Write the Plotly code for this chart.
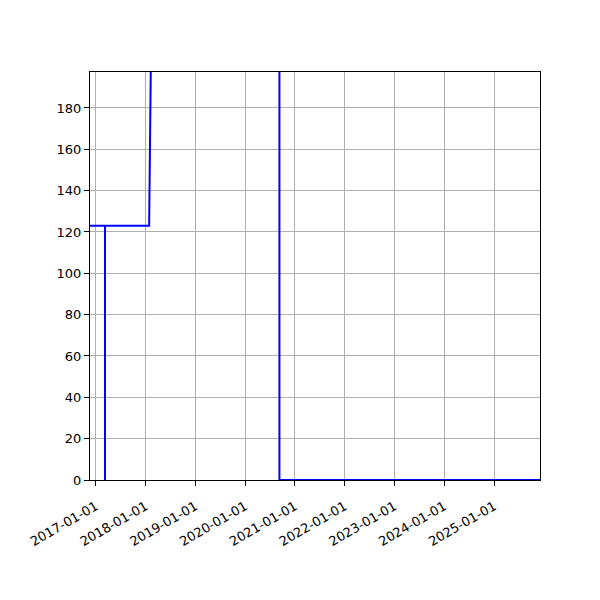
import plotly.graph_objects as go

# points de la courbe (dates, valeurs)
dates = ["2016-06-01", "2017-03-09", "2017-03-09", "2017-03-09",
         "2018-01-27", "2018-03-01", "2020-09-09", "2020-09-09", "2026-06-01"]
values = [123, 123, 0, 123, 123, 330, 330, 0, 0]

tick_dates = ["2017-01-01", "2018-01-01", "2019-01-01", "2020-01-01", "2021-01-01",
              "2022-01-01", "2023-01-01", "2024-01-01", "2025-01-01"]
y_ticks = [0, 20, 40, 60, 80, 100, 120, 140, 160, 180]

fig = go.Figure()

fig.add_trace(go.Scatter(
    x=dates,
    y=values,
    mode="lines",
    line=dict(color="blue", width=2),
    showlegend=False
))

axis_style = dict(
    showline=True,
    linecolor="black",
    linewidth=1,
    mirror=True,
    ticks="outside",
    ticklen=5,
    tickwidth=1,
    tickcolor="black",
    showgrid=True,
    gridcolor="#b0b0b0",
    gridwidth=1,
    zeroline=False,
    tickfont=dict(family="DejaVu Sans", size=13, color="black"),
)

fig.update_xaxes(
    range=["2016-11-19", "2025-12-04"],
    tickvals=tick_dates,
    ticktext=tick_dates,
    tickangle=-30,
    ticklabelstandoff=8,
    **axis_style
)
fig.update_yaxes(
    range=[0, 197.4],
    tickvals=y_ticks,
    **axis_style
)

# la page html ajoute une marge de 8px, on compense
fig.update_layout(
    width=600,
    height=600,
    margin=dict(l=82, r=68, t=64, b=128),
    plot_bgcolor="white",
    paper_bgcolor="white",
)

fig.write_html("out.html")
